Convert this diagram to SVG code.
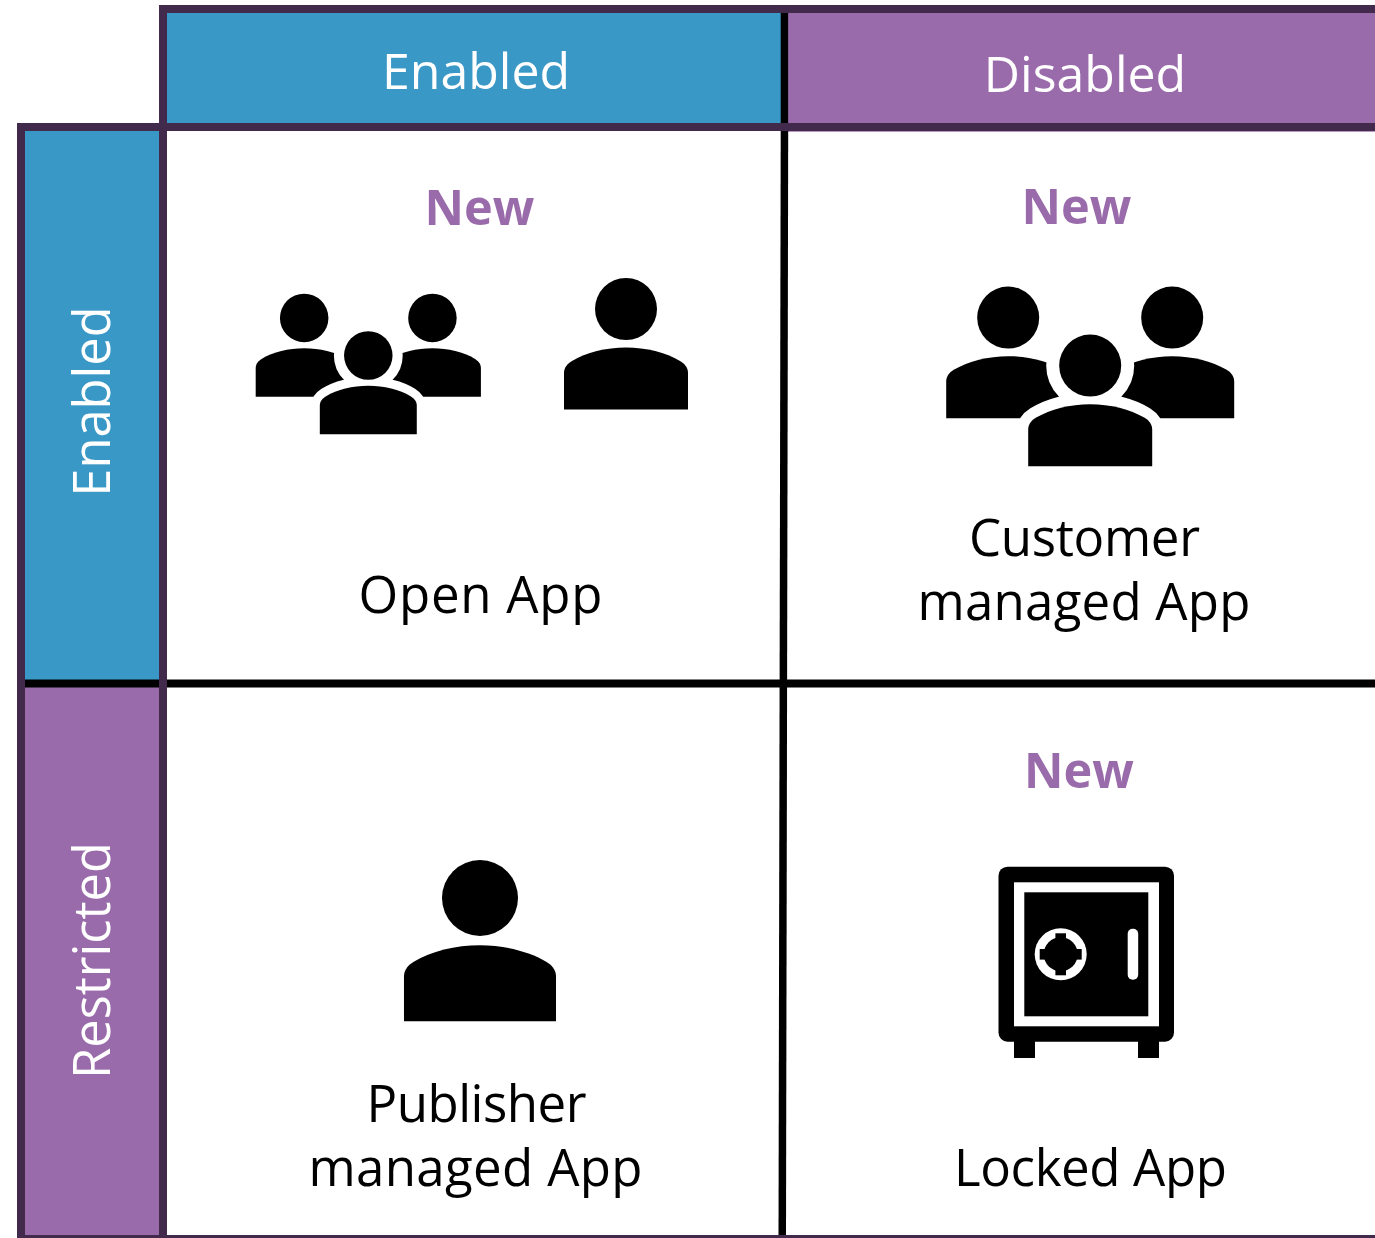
<svg xmlns="http://www.w3.org/2000/svg" width="1375" height="1238" viewBox="0 0 1375 1238">
<style>
text{font-family:"Open Sans","Noto Sans","Liberation Sans",sans-serif;text-anchor:middle}
.hd{fill:#fff;font-size:50px}
.side{fill:#fff;font-size:50.6px}
.new{fill:#9A6BAB;font-size:48.6px;font-weight:700}
.lb{fill:#000;font-size:51px}
.blue{fill:#3A98C7}.purple{fill:#9A6BAB}.dark{fill:#422A4C}
</style>
<defs>
<g id="person"><circle cx="0" cy="0" r="31"/><path id="body" d="M-62 100.6V64C-62 58-58 54.5-54 52C-40 43.5-20 38.6 0 38.6C20 38.6 40 43.5 54 52C58 54.5 62 58 62 64V100.6Z"/></g>
<g id="halo" fill="#fff" stroke="#fff" stroke-linejoin="round"><circle cx="0" cy="0" r="31" stroke-width="26"/><use href="#body" stroke-width="22"/></g>
<g id="trio"><use href="#person" x="-82" y="-48"/><use href="#person" x="82" y="-48"/><use href="#halo"/><use href="#person"/></g>
</defs>
<rect width="1375" height="1238" fill="#fff"/>
<g id="grid">
<rect class="purple" x="788" y="130" width="587" height="1.7"/>
<rect class="dark" x="159" y="5" width="1216" height="126"/>
<rect class="blue" x="167" y="13" width="614" height="110"/>
<rect x="780.7" y="13" width="7.5" height="110" fill="#000"/>
<rect class="purple" x="788.2" y="13" width="587" height="110"/>
<rect class="dark" x="17" y="123" width="150" height="1115"/>
<rect class="blue" x="25" y="131" width="134" height="549"/>
<rect class="purple" x="25" y="687" width="134" height="548"/>
<rect x="25" y="679.5" width="134" height="8" fill="#000"/>
<rect x="167" y="679.5" width="1208" height="8" fill="#000"/>
<polygon points="780.7,131 788.2,131 786,1235 778.5,1235" fill="#000"/>
<rect class="dark" x="167" y="1235" width="1208" height="3"/>
</g>
<g id="col-enabled"><text class="hd" x="476" y="88.5">Enabled</text></g>
<g id="col-disabled"><text class="hd" x="1085" y="91.5">Disabled</text></g>
<g id="row-enabled"><text class="side" transform="translate(110 401.5) rotate(-90)">Enabled</text></g>
<g id="row-restricted"><text class="side" transform="translate(110 960.5) rotate(-90)">Restricted</text></g>
<g id="open-app">
<text class="new" x="479.5" y="225">New</text>
<use href="#trio" transform="translate(368.3 355.5) scale(.782)"/>
<use href="#person" x="626" y="309"/>
<text class="lb" x="480.5" y="612.5" textLength="244">Open App</text>
</g>
<g id="customer-managed-app">
<text class="new" x="1076.5" y="224">New</text>
<use href="#trio" x="1090.2" y="365.6"/>
<text class="lb" x="1084.5" y="556" textLength="231">Customer</text>
<text class="lb" x="1084" y="620" textLength="333">managed App</text>
</g>
<g id="publisher-managed-app">
<use href="#person" transform="translate(480 898) scale(1.226)"/>
<text class="lb" x="476.5" y="1121.5" textLength="220">Publisher</text>
<text class="lb" x="475.5" y="1186" textLength="334">managed App</text>
</g>
<g id="locked-app">
<text class="new" x="1079" y="788">New</text>
<rect x="998.5" y="866.7" width="175.5" height="175" rx="9"/>
<rect x="1014" y="1040" width="21" height="18"/><rect x="1138" y="1040" width="21" height="18"/>
<rect x="1014" y="882.3" width="145" height="144" fill="#fff"/>
<rect x="1024.3" y="892.3" width="124" height="124"/>
<rect x="1127.7" y="928.7" width="10.5" height="51" rx="5" fill="#fff"/>
<circle cx="1060.7" cy="954.3" r="26" fill="#fff"/>
<circle cx="1060.7" cy="954.3" r="17"/>
<rect x="1055.4" y="933.3" width="10.6" height="42"/>
<rect x="1039.7" y="949" width="42" height="10.6"/>
<text class="lb" x="1090.5" y="1185.5" textLength="273">Locked App</text>
</g>
</svg>
